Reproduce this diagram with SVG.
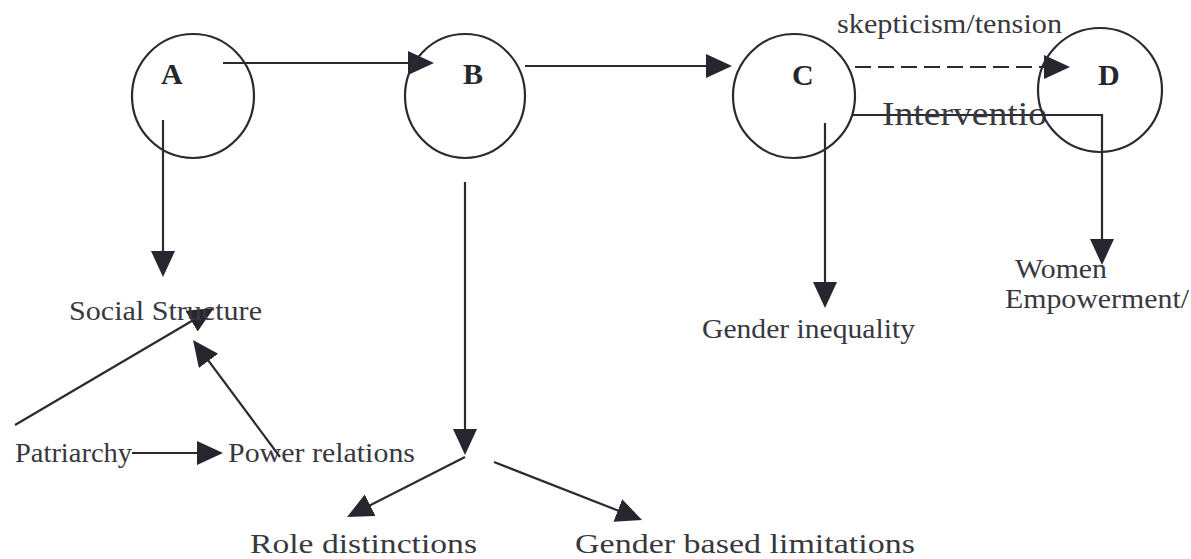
<svg xmlns="http://www.w3.org/2000/svg" width="1191" height="559" viewBox="0 0 1191 559">
  <style>
    .circle { fill: none; stroke: #2a2a32; stroke-width: 2.2; }
    .letter { font-family: "Liberation Serif", "Times New Roman", serif; font-weight: bold; font-size: 30px; fill: #26262e; }
    .label { font-family: "Liberation Serif", "Times New Roman", serif; font-size: 27px; fill: #38383f; }
    .big { font-size: 34px; }
    .conn { fill: none; stroke: #2a2a32; stroke-width: 2.2; marker-end: url(#arrow); }
    .dashed { stroke-dasharray: 16 7; }
  </style>
  <defs>
    <marker id="arrow" markerUnits="userSpaceOnUse" markerWidth="28" markerHeight="26" refX="22" refY="12" orient="auto">
      <path d="M0,0 L26,12 L0,24 z" fill="#26262e"/>
    </marker>
  </defs>
  <rect x="0" y="0" width="1191" height="559" fill="#ffffff"/>

  <g id="connectors">
    <path class="conn" d="M223,63 H430"/>
    <path class="conn" d="M525,66 H728"/>
    <path class="conn dashed" d="M855,67 H1066"/>
    <path class="conn" d="M163,120 V273"/>
    <path class="conn" d="M465,182 V451"/>
    <path class="conn" d="M825,123 V304"/>
    <path class="conn" d="M852,115 H1102 V261"/>
    <path class="conn" d="M132,453 H219"/>
    <path class="conn" d="M15,425 L210.5,310"/>
    <path class="conn" d="M280,457 L195.4,343.2"/>
    <path class="conn" d="M465,457 L350.6,515.2"/>
    <path class="conn" d="M494,462 L638.3,518.5"/>
  </g>

  <g id="edge-labels">
    <text class="label" x="837" y="33" textLength="225" lengthAdjust="spacingAndGlyphs">skepticism/tension</text>
    <text class="label big" x="882" y="125" textLength="165" lengthAdjust="spacingAndGlyphs">Interventio</text>
  </g>

  <g id="node-A">
    <ellipse class="circle" cx="193" cy="96" rx="61" ry="62"/>
    <text class="letter" x="161" y="84">A</text>
  </g>
  <g id="node-B">
    <ellipse class="circle" cx="465" cy="96" rx="60" ry="62"/>
    <text class="letter" x="463" y="84">B</text>
  </g>
  <g id="node-C">
    <ellipse class="circle" cx="794" cy="96" rx="61" ry="62"/>
    <text class="letter" x="792" y="85">C</text>
  </g>
  <g id="node-D">
    <ellipse class="circle" cx="1100" cy="90" rx="62" ry="62"/>
    <text class="letter" x="1098" y="85">D</text>
  </g>

  <g id="node-social-structure">
    <text class="label" x="69" y="320" textLength="193" lengthAdjust="spacingAndGlyphs">Social Structure</text>
  </g>
  <g id="node-patriarchy">
    <text class="label" x="15" y="462" textLength="117" lengthAdjust="spacingAndGlyphs">Patriarchy</text>
  </g>
  <g id="node-power-relations">
    <text class="label" x="228" y="462" textLength="187" lengthAdjust="spacingAndGlyphs">Power relations</text>
  </g>
  <g id="node-role-distinctions">
    <text class="label" x="250" y="553" textLength="227" lengthAdjust="spacingAndGlyphs">Role distinctions</text>
  </g>
  <g id="node-gender-limitations">
    <text class="label" x="575" y="553" textLength="340" lengthAdjust="spacingAndGlyphs">Gender based limitations</text>
  </g>
  <g id="node-gender-inequality">
    <text class="label" x="702" y="338" textLength="213" lengthAdjust="spacingAndGlyphs">Gender inequality</text>
  </g>
  <g id="node-women-empowerment">
    <text class="label" x="1015" y="278" textLength="92" lengthAdjust="spacingAndGlyphs">Women</text>
    <text class="label" x="1005" y="308" textLength="184" lengthAdjust="spacingAndGlyphs">Empowerment/</text>
  </g>
</svg>
